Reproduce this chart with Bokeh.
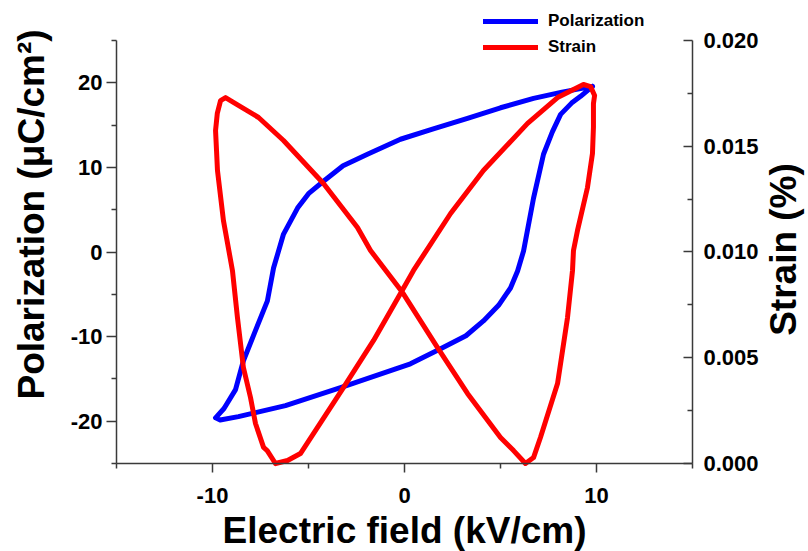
import math

from bokeh.plotting import figure
from bokeh.models import (Range1d, LinearAxis, FixedTicker, Legend, LegendItem,
                          NumeralTickFormatter, Label)
from bokeh.embed import file_html
from bokeh.resources import INLINE

# P-E hysteresis loop: upper branch (field decreasing) then lower branch (field increasing)
pol_field = [9.79, 8.20, 6.72, 5.00, 3.28, 1.50, -0.21, -1.93, -3.20, -4.22, -5.00,
             -5.57, -6.30, -6.82, -7.14, -7.80, -8.39, -8.80, -9.40, -9.84, -9.60,
             -8.65, -6.20, -3.33, 0.31, 1.88, 3.20, 4.11, 4.90, 5.52, 5.89, 6.20,
             6.72, 7.24, 7.70, 8.13, 8.70, 9.17, 9.79]
pol_value = [19.58, 18.90, 18.16, 17.05, 15.80, 14.55, 13.33, 11.56, 10.20, 8.37, 6.90,
             5.19, 2.12, -1.89, -5.78, -9.50, -12.85, -16.27, -18.50, -19.60, -19.85,
             -19.46, -18.16, -16.04, -13.21, -11.44, -9.90, -8.14, -6.30, -4.25, -2.24, 0.12,
             6.37, 11.56, 14.20, 16.27, 17.60, 18.40, 19.58]

# S-E butterfly loop, traced as one closed curve
strain_field = [-6.72, -6.09, -5.42, -3.18, -1.61, -0.21, 0.47, 2.40, 4.11, 6.41,
                7.97, 9.32, 9.69, 9.90, 9.84, 9.84, 9.79, 9.53, 9.01, 8.80, 8.75,
                8.49, 7.97, 7.08, 6.72, 6.30, 5.68, 5.00, 3.28, 1.72, -0.10, -1.77,
                -2.45, -4.22, -6.30, -7.60, -8.65, -9.32, -9.58, -9.75, -9.84, -9.79,
                -9.74, -9.43, -8.96, -8.70, -8.39, -8.02, -7.76, -7.34, -7.15, -6.72]
strain_value = [0.00000, 0.00014, 0.00047, 0.00359, 0.00582, 0.00804, 0.00913, 0.01182,
                0.01385, 0.01608, 0.01730, 0.01792, 0.01782, 0.01740, 0.01702, 0.01590,
                0.01466, 0.01305, 0.01102, 0.01007, 0.00913, 0.00690, 0.00378, 0.00123,
                0.00028, 0.00000, 0.00061, 0.00123, 0.00331, 0.00548, 0.00808, 0.01007,
                0.01116, 0.01324, 0.01527, 0.01636, 0.01693, 0.01730, 0.01716, 0.01655,
                0.01574, 0.01480, 0.01385, 0.01149, 0.00912, 0.00690, 0.00454, 0.00312,
                0.00189, 0.00076, 0.00061, 0.00000]

x_ticks = [-10, 0, 10]
x_tick_labels = ["-10", "0", "10"]
x_minor = [-15, -5, 5, 15]
p_ticks = [-20, -10, 0, 10, 20]
p_tick_labels = ["-20", "-10", "0", "10", "20"]
p_minor = [-25, -15, -5, 5, 15, 25]
s_ticks = [0.0, 0.005, 0.010, 0.015, 0.020]
s_minor = [0.0025, 0.0075, 0.0125, 0.0175]

x_title = "Electric field (kV/cm)"
p_title = "Polarization (\u03bcC/cm\u00b2)"
s_title = "Strain (%)"

# Axis extents, and the wider view that the frame covers (the whole canvas),
# so that axes, titles and legend can all be placed inside it
X_AXIS = (-15, 15)
P_AXIS = (-25, 25)
S_AXIS = (0.0, 0.020)
X_VIEW = (-21.04, 21.04)
P_VIEW = (-35.40, 29.73)
S_VIEW = (-0.004161, 0.021891)

FONT = "Liberation Sans"
AXIS_COLOR = "#3a3a3a"
TITLE_SIZE = "37px"
W, H = 808, 551

p = figure(width=W, height=H, output_backend="svg", toolbar_location=None, title=None,
           x_range=Range1d(*X_VIEW), y_range=Range1d(*P_VIEW))
p.extra_y_ranges = {"strain": Range1d(*S_VIEW)}
p.grid.visible = False
p.outline_line_color = None
p.min_border = 0
p.min_border_left = 0
p.min_border_right = 0
p.min_border_top = 0
p.min_border_bottom = 0
p.background_fill_color = "white"
p.border_fill_color = "white"

pol = p.line(pol_field, pol_value, line_color="#0000ff", line_width=5,
             line_join="round", line_cap="round")
strain = p.line(strain_field, strain_value, y_range_name="strain", line_color="#ff0000",
                line_width=5, line_join="round", line_cap="round")


def style_axis(ax):
    ax.major_label_text_font = FONT
    ax.major_label_text_font_style = "bold"
    ax.major_label_text_font_size = "22px"
    ax.major_label_text_color = "black"
    ax.axis_line_color = AXIS_COLOR
    ax.axis_line_width = 1.5
    ax.major_tick_line_color = AXIS_COLOR
    ax.minor_tick_line_color = AXIS_COLOR
    ax.major_tick_line_width = 1.5
    ax.minor_tick_line_width = 1.5


xa = p.xaxis[0]
style_axis(xa)
xa.fixed_location = P_AXIS[0]
xa.bounds = X_AXIS
xa.ticker = FixedTicker(ticks=x_ticks, minor_ticks=x_minor)
xa.major_label_overrides = dict(zip(x_ticks, x_tick_labels))
xa.major_tick_out = 9
xa.major_tick_in = 0
xa.minor_tick_out = 5
xa.minor_tick_in = 0
xa.major_label_standoff = 15

ya = p.yaxis[0]
style_axis(ya)
ya.fixed_location = X_AXIS[0]
ya.bounds = P_AXIS
ya.ticker = FixedTicker(ticks=p_ticks, minor_ticks=p_minor)
ya.major_label_overrides = dict(zip(p_ticks, p_tick_labels))
ya.major_tick_out = 10
ya.major_tick_in = 0
ya.minor_tick_out = 5
ya.minor_tick_in = 0
ya.major_label_standoff = 4

ra = LinearAxis(y_range_name="strain", bounds=S_AXIS, fixed_location=X_AXIS[1])
style_axis(ra)
ra.ticker = FixedTicker(ticks=s_ticks, minor_ticks=s_minor)
ra.formatter = NumeralTickFormatter(format="0.000")
ra.major_tick_in = 9
ra.major_tick_out = 0
ra.minor_tick_in = 5
ra.minor_tick_out = 0
ra.major_label_standoff = 11
p.add_layout(ra, "right")

# Axis titles (screen units from the bottom-left corner of the canvas)
title_style = dict(text_font=FONT, text_font_style="bold", text_font_size=TITLE_SIZE,
                   text_color="black", text_align="center", text_baseline="alphabetic")
p.add_layout(Label(x=0, y=21, x_units="data", y_units="screen", text=x_title, **title_style))
p.add_layout(Label(x=31, y=H - 214, x_units="screen", y_units="screen", text=p_title,
                   angle=math.pi / 2, **title_style))
p.add_layout(Label(x=783, y=H - 249, x_units="screen", y_units="screen", text=s_title,
                   angle=math.pi / 2, **title_style))

legend = Legend(items=[LegendItem(label="Polarization", renderers=[pol]),
                       LegendItem(label="Strain", renderers=[strain])],
                location=(483, H - 60), orientation="vertical")
legend.border_line_color = None
legend.background_fill_alpha = 0
legend.padding = 0
legend.margin = 0
legend.spacing = 0
legend.glyph_width = 55
legend.glyph_height = 26
legend.label_height = 26
legend.label_standoff = 10
legend.label_text_font = FONT
legend.label_text_font_style = "bold"
legend.label_text_font_size = "17px"
legend.label_text_color = "black"
p.add_layout(legend, "center")

open("out.html", "w").write(file_html(p, INLINE))
